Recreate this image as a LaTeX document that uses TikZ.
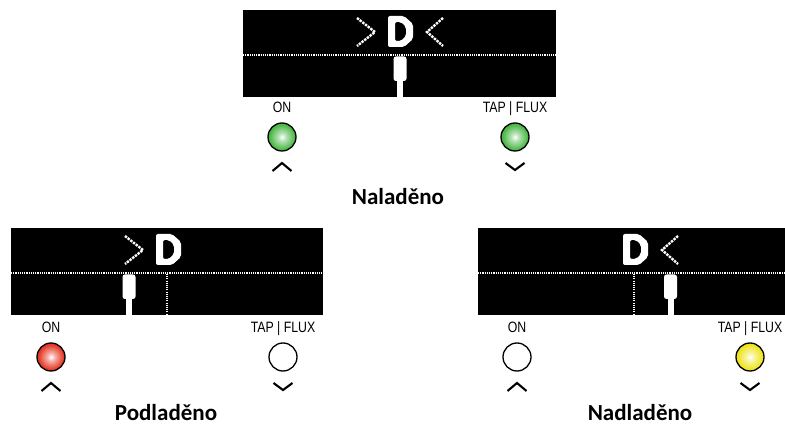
\documentclass[tikz,border=0pt]{standalone}
\usepackage{fontspec}
\setmainfont{Carlito}
\newfontfamily\labelfont[FakeStretch=0.82]{Liberation Sans}
\newfontfamily\titlefont{Carlito}
\definecolor{ledG}{HTML}{4DB848}
\definecolor{ledR}{HTML}{E53A27}
\definecolor{ledY}{HTML}{EEE51E}
\pgfdeclareradialshading{greenled}{\pgfpoint{0bp}{0bp}}{color(0bp)=(white); color(7bp)=(ledG!40!white); color(22bp)=(ledG); color(50bp)=(ledG!85!black)}
\pgfdeclareradialshading{redled}{\pgfpoint{0bp}{0bp}}{color(0bp)=(white); color(7bp)=(ledR!40!white); color(22bp)=(ledR); color(50bp)=(ledR!85!black)}
\pgfdeclareradialshading{yellowled}{\pgfpoint{0bp}{0bp}}{color(0bp)=(white); color(7bp)=(ledY!40!white); color(22bp)=(ledY); color(50bp)=(ledY!85!black)}
\newcommand\lcdbase[1]{%
  \fill[black] (0,0) rectangle (#1,87);
  \draw[lcddots] (0,45) -- (#1,45);}
\newcommand\lcdD{%
  \fill[white,even odd rule,rounded corners=2pt]
    (145,6) -- (161,6) -- (170,14) -- (170,29) -- (161,37) -- (145,37) -- cycle
    (152,12) -- (158,12) -- (163,17) -- (163,26) -- (158,31) -- (152,31) -- cycle;}
\newcommand\lcdgt{\draw[pixline] (114,8) -- (132,22) -- (114,36);}
\newcommand\lcdlt{\draw[pixline] (200,8) -- (184,22) -- (200,36);}
\newcommand\lcdmic[1]{%
  \fill[white,rounded corners=2.5pt] (#1-6.5,46.5) -- (#1+6.5,46.5) -- (#1+6.5,71) -- (#1-6.5,71) -- cycle;
  \fill[white] (#1-3,69) rectangle (#1+3,87);}
\newcommand\lcdcenter{\draw[lcddots] (156,46) -- (156,87);}
\begin{document}
\begin{tikzpicture}[x=1pt,y=-1pt,
  lcddots/.style={white,line width=1.1pt,dash pattern=on 1.1pt off 1.1pt},
  pixline/.style={white,line width=2.4pt,dash pattern=on 2.4pt off 1pt},
  lbl/.style={font=\labelfont\fontsize{15}{17}\selectfont,anchor=base,inner sep=0pt},
  ttl/.style={font=\titlefont\bfseries\fontsize{23}{26}\selectfont,anchor=base,inner sep=0pt},
  led/.style={circle,draw=black,line width=1.3pt,minimum size=28pt,inner sep=0pt},
  chev/.style={draw=black,line width=2.1pt}]
\useasboundingbox[fill=white] (0,0) rectangle (785,427);
\begin{scope}
\clip (0,0) rectangle (785,427);
% top display
\begin{scope}[shift={(243,10)}]
  \lcdbase{313}\lcdD\lcdgt\lcdlt\lcdmic{157}
\end{scope}
% bottom left display
\begin{scope}[shift={(11,228)}]
  \lcdbase{312}\lcdD\lcdgt\lcdcenter\lcdmic{118}
\end{scope}
% bottom right display
\begin{scope}[shift={(478,228)}]
  \lcdbase{312}\lcdD\lcdlt\lcdcenter\lcdmic{192.5}
\end{scope}
\end{scope}
% top row
\node[lbl] (on1) at (282,113) {ON};
\node[lbl] (tap1) at (515,113) {TAP | FLUX};
\node[led,shade,shading=greenled] (ledA) at (282,137) {};
\node[led,shade,shading=greenled] (ledB) at (515,137) {};
\draw[chev] ([shift={(-9.5,34)}]ledA.center) -- ([shift={(0,26)}]ledA.center) -- ([shift={(9.5,34)}]ledA.center);
\draw[chev] ([shift={(-9.5,26)}]ledB.center) -- ([shift={(0,33)}]ledB.center) -- ([shift={(9.5,26)}]ledB.center);
\node[ttl] (t1) at (398,205) {Naladěno};
% bottom left
\node[lbl] (on2) at (51,333) {ON};
\node[lbl] (tap2) at (283,333) {TAP | FLUX};
\node[led,shade,shading=redled] (ledC) at (51,357) {};
\node[led,fill=white] (ledD) at (283,357) {};
\draw[chev] ([shift={(-9.5,34)}]ledC.center) -- ([shift={(0,26)}]ledC.center) -- ([shift={(9.5,34)}]ledC.center);
\draw[chev] ([shift={(-9.5,26)}]ledD.center) -- ([shift={(0,33)}]ledD.center) -- ([shift={(9.5,26)}]ledD.center);
\node[ttl] (t2) at (166,421) {Podladěno};
% bottom right
\node[lbl] (on3) at (517,333) {ON};
\node[lbl] (tap3) at (750,333) {TAP | FLUX};
\node[led,fill=white] (ledE) at (517,357) {};
\node[led,shade,shading=yellowled] (ledF) at (750,357) {};
\draw[chev] ([shift={(-9.5,34)}]ledE.center) -- ([shift={(0,26)}]ledE.center) -- ([shift={(9.5,34)}]ledE.center);
\draw[chev] ([shift={(-9.5,26)}]ledF.center) -- ([shift={(0,33)}]ledF.center) -- ([shift={(9.5,26)}]ledF.center);
\node[ttl] (t3) at (640,421) {Nadladěno};
\end{tikzpicture}
\end{document}
